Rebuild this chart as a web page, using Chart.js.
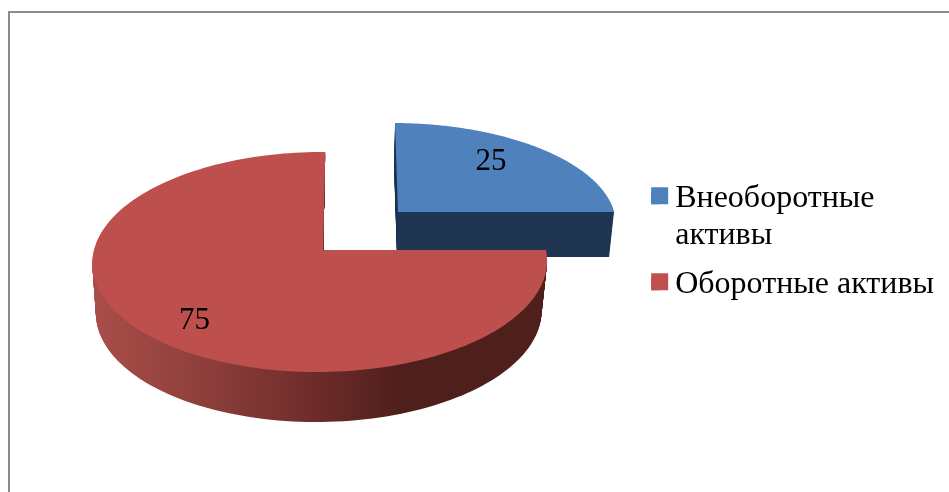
<!DOCTYPE html>
<html lang="ru">
<head>
<meta charset="utf-8">
<title>Активы</title>
<script src="https://cdn.jsdelivr.net/npm/chart.js@4"></script>
<style>
    html, body { margin: 0; padding: 0; background: #fff; overflow: hidden; }
    #frame { position: absolute; left: 8px; top: 11px; width: 1000px; height: 600px; border-left: 2px solid #8c8c8c; border-top: 2px solid #8c8c8c; }
    #graph { position: absolute; left: 0; top: 0; }
</style>
</head>
<body>
<div id="frame"></div>
<canvas id="graph" width="949" height="492"></canvas>
<script>
// Chart data
const categories = ['Внеоборотные активы', 'Оборотные активы'];
const values = [25, 75];
const legendLines = [['Внеоборотные', 'активы'], ['Оборотные активы']];

// Colours
const faceColors = ['#4f81bd', '#bd4f4c'];
const legendColors = ['#4f81bd', '#c0504d'];

// Fake 3D look: how each exploded slice sits on the page
const views = [
    { cx: 398, cy: 212, a: 219, b: 98.7, s: 3.3, depth: 45, shrink: 0.982 },
    { cx: 323, cy: 250, a: 226, b: 108.7, s: -2.5, depth: 50, shrink: 0.98 },
];
const tiltK = 0.109; // far edge looks smaller than near edge
const tiltP = -0.0133;
const labelNudge = [[-14.5, -1], [1, 9]];
const legendBoxSize = 17;

// Disk coordinates (u east, v south) to canvas pixels, t goes 0..1 down the wall
function project(view, u, v, t) {
    const w = 1 - tiltK * v - tiltP * u;
    const scale = 1 - (1 - view.shrink) * t;
    return {
        x: view.cx - t + scale * (view.a * u + view.s * v) / w,
        y: view.cy + t * view.depth + view.b * v / w,
    };
}

function traceSlice(ctx, view, arc, t) {
    const apex = project(view, 0, 0, t);
    ctx.beginPath();
    ctx.moveTo(apex.x, apex.y);
    const steps = 160;
    for (let i = 0; i <= steps; i++) {
        const angle = arc.startAngle + (arc.endAngle - arc.startAngle) * i / steps;
        const p = project(view, Math.cos(angle), Math.sin(angle), t);
        ctx.lineTo(p.x, p.y);
    }
    ctx.closePath();
}

function wallStyle(ctx, index) {
    if (index === 0) return '#1f3552';
    const g = ctx.createLinearGradient(93, 0, 546, 0);
    g.addColorStop(0, '#aa4e4a');
    g.addColorStop(0.24, '#8e3f3b');
    g.addColorStop(0.46, '#722e2c');
    g.addColorStop(0.68, '#4f1f1c');
    g.addColorStop(1, '#4f1f1c');
    return g;
}

// Draw the arcs chart.js laid out, but squashed and extruded
const pie3d = {
    id: 'pie3d',
    beforeDatasetsDraw(chart) {
        const ctx = chart.ctx;
        const arcs = chart.getDatasetMeta(0).data;
        arcs.forEach((arc, i) => {
            const view = views[i];
            ctx.save();
            ctx.fillStyle = wallStyle(ctx, i);
            for (let d = view.depth; d > 0; d--) {
                traceSlice(ctx, view, arc, d / view.depth);
                ctx.fill();
            }
            traceSlice(ctx, view, arc, 0);
            ctx.fillStyle = faceColors[i];
            ctx.fill();
            ctx.restore();
        });
        // value labels
        arcs.forEach((arc, i) => {
            const mid = (arc.startAngle + arc.endAngle) / 2;
            const p = project(views[i], 0.75 * Math.cos(mid), 0.75 * Math.sin(mid), 0);
            ctx.save();
            ctx.font = '31px "Liberation Serif"';
            ctx.fillStyle = '#000';
            ctx.textAlign = 'center';
            ctx.textBaseline = 'middle';
            ctx.fillText(String(values[i]), p.x + labelNudge[i][0], p.y + labelNudge[i][1]);
            ctx.restore();
        });
        return false;
    },
    // chart.js puts the text half a font away from the box, so the box is
    // kept small in the legend and redrawn bigger here, closer to the text
    afterDraw(chart) {
        const ctx = chart.ctx;
        chart.legend.legendHitBoxes.forEach((box, i) => {
            ctx.fillStyle = legendColors[i];
            ctx.fillRect(box.left, box.top + 5, legendBoxSize, legendBoxSize);
        });
    },
};

const chart = new Chart(document.getElementById('graph').getContext('2d'), {
    type: 'pie',
    data: {
        labels: categories,
        datasets: [{ data: values, backgroundColor: legendColors, borderWidth: 0 }],
    },
    options: {
        responsive: false,
        animation: false,
        layout: { padding: { top: 0, right: 5, bottom: 9.5, left: 0 } },
        plugins: {
            tooltip: { enabled: false },
            legend: {
                position: 'right',
                align: 'center',
                labels: {
                    boxWidth: 8,
                    boxHeight: 12,
                    padding: 10.5,
                    color: '#000',
                    font: { family: '"Liberation Serif"', size: 32, lineHeight: 1.18 },
                    generateLabels: () => legendLines.map((text, i) => ({
                        text: text.length > 1 ? text : text[0],
                        fillStyle: legendColors[i],
                        strokeStyle: legendColors[i],
                        lineWidth: 0,
                        hidden: false,
                        index: i,
                    })),
                },
            },
        },
    },
    plugins: [pie3d],
});
</script>
</body>
</html>
